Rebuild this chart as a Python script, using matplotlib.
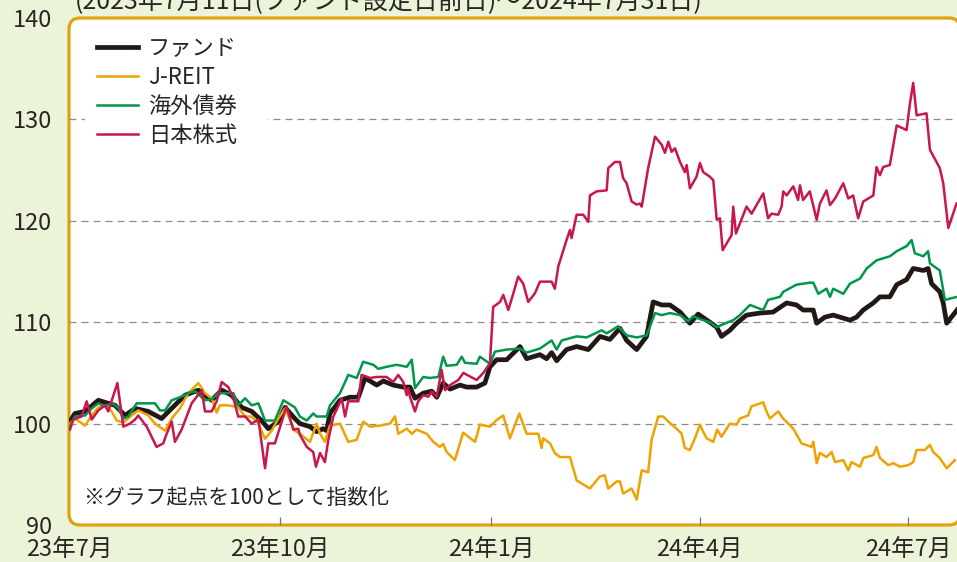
import matplotlib
matplotlib.use("Agg")
import matplotlib.pyplot as plt
import matplotlib.transforms as mtransforms
from matplotlib.patches import FancyBboxPatch, Rectangle

plt.rcParams['font.family'] = ['Noto Sans CJK JP', 'DejaVu Sans']

# ---------------- data (days since 2023-07-01, index values) ----------------
fund_days = [0.4, 2.6, 7.0, 12.8, 17.1, 20.1, 24.4, 28.8, 34.6, 40.4, 44.8, 50.6, 56.4, 62.2, 66.6, 70.9,
             75.3, 79.7, 84.0, 86.9, 91.3, 94.2, 98.5,
             100.7, 105.1, 108.0, 110.9, 112.4, 113.8, 118.2, 122.5, 126.2, 129.1, 134.2, 137.1, 141.4, 145.8,
             148.7, 150.9, 154.5, 158.2, 160.4, 163.2, 166.2, 170.5, 173.4, 177.8, 181.4,
             183.6, 186.5, 190.9, 196.7, 199.6, 205.4, 208.3, 210.5, 212.7, 217.0, 221.4, 226.5, 231.6, 235.9,
             240.3, 243.2, 247.6, 251.9, 254.8, 258.5, 262.1, 266.5, 270.8, 274.4,
             279.5, 282.5, 284.6, 288.2, 291.2, 295.5, 301.3, 307.1, 313.0, 317.3, 320.2, 324.6, 326.1, 329.7,
             333.3, 337.7, 340.6, 343.5, 346.4, 350.8, 353.7, 358.0, 361.0, 365.3, 368.2, 372.6, 374.7, 376.2,
             379.8, 381.3, 382.8, 387.3]
fund_vals = [100.2, 101.0, 101.2, 102.3, 102.0, 101.8, 100.8, 101.5, 101.2, 100.5, 101.5, 102.8, 103.3, 102.3,
             103.3, 102.8, 101.6, 101.2, 100.3, 99.5, 100.2, 101.6, 100.5,
             100.0, 99.7, 99.2, 99.5, 99.3, 101.0, 102.3, 102.6, 102.6, 104.5, 103.8, 104.2, 103.8, 103.6,
             103.6, 102.5, 103.0, 103.2, 102.6, 104.0, 103.4, 103.8, 103.6, 103.6, 104.0,
             105.6, 106.3, 106.3, 107.6, 106.4, 106.8, 106.4, 107.0, 106.2, 107.3, 107.6, 107.3, 108.6, 108.3,
             109.4, 108.2, 107.3, 108.6, 112.0, 111.7, 111.7, 111.0, 109.9, 110.8,
             110.0, 109.5, 108.6, 109.2, 109.9, 110.7, 110.9, 111.0, 111.9, 111.7, 111.2, 111.2, 109.9, 110.5,
             110.7, 110.4, 110.2, 110.5, 111.2, 111.9, 112.5, 112.5, 113.7, 114.2, 115.3, 115.1, 115.3, 113.8,
             113.0, 111.9, 109.9, 111.2]

reit_days = [0.4, 2.6, 7.0, 9.9, 12.8, 15.7, 18.6, 20.8, 23.7, 27.3, 30.2, 34.6, 37.5, 41.9, 44.8, 48.4,
             52.0, 56.4, 59.3, 62.2, 64.4, 65.8, 69.5, 73.8, 76.8, 79.7, 82.6, 85.5, 88.4, 91.3, 94.2, 98.5,
             100.7, 105.1, 108.0, 109.5, 111.6, 113.8, 118.2, 121.8, 125.5, 128.3, 131.3, 135.6, 140.0, 142.2,
             143.6, 147.3, 149.5, 151.6, 156.0, 158.9, 161.8, 163.2, 164.7, 168.3, 171.9, 177.1,
             179.2, 183.6, 186.5, 189.4, 192.3, 196.4, 199.6, 204.7, 206.1, 206.8,
             209.8, 211.9, 214.1, 218.5, 221.4, 225.8, 227.2, 231.6, 233.7, 235.2,
             238.9, 240.3, 241.7, 245.4, 247.6, 249.8, 252.6, 254.1, 257.0, 259.2,
             261.4, 265.0, 267.2, 268.6, 270.8, 273.0, 275.2, 276.6, 278.1, 281.0,
             282.7, 284.6, 288.2, 291.2, 292.6, 296.2, 297.7, 302.8, 304.2, 305.7,
             309.3, 311.5, 315.9, 319.5, 323.9, 324.6, 326.1, 327.5, 330.4, 332.6,
             334.1, 337.7, 339.9, 341.3, 345.0, 346.4, 350.8, 352.2, 353.7, 357.3,
             359.5, 362.4, 366.0, 368.2, 369.7, 373.3, 375.5, 376.9, 379.8, 382.8, 386.4]
reit_vals = [100.0, 100.5, 99.8, 100.8, 101.6, 101.8, 101.2, 100.3, 100.1, 100.8, 101.3, 100.8, 100.0, 99.3,
             100.5, 101.5, 103.0, 104.0, 103.0, 102.5, 101.1, 101.8, 101.8, 101.6, 100.7, 100.7, 100.0, 98.5,
             99.3, 100.5, 101.5, 99.3,
             99.0, 98.2, 100.0, 99.0, 98.2, 99.8, 100.0, 98.2, 98.4, 100.2, 99.7, 99.8, 100.0, 100.7,
             99.0, 99.5, 99.0, 99.4, 99.0, 98.2, 97.7, 98.0, 97.2, 96.4, 99.1, 98.2,
             99.9, 99.7, 100.35, 100.8, 98.55, 101.0, 99.0, 99.0, 97.6, 98.55,
             98.05, 97.1, 96.7, 96.7, 94.4, 93.8, 93.6, 94.8, 94.9, 93.6,
             94.3, 94.3, 93.1, 93.6, 92.5, 95.4, 95.2, 98.4, 100.7, 100.7,
             100.2, 99.5, 99.0, 97.6, 97.4, 98.55, 99.9, 99.2, 98.55, 98.2,
             99.4, 98.7, 100.0, 99.9, 100.5, 100.8, 101.7, 102.1, 101.2, 100.5,
             101.2, 100.5, 99.5, 98.05, 97.7, 98.2, 96.1, 97.1, 96.7, 97.2,
             96.2, 96.4, 95.4, 96.2, 95.75, 96.6, 96.9, 97.7, 96.6, 95.9,
             96.1, 95.75, 95.9, 96.2, 97.4, 97.4, 97.9, 97.2, 96.6, 95.6, 96.4]

bond_days = [0.4, 2.6, 7.0, 9.9, 12.8, 15.7, 18.6, 21.5, 23.7, 25.9, 29.5, 33.1, 37.5, 39.7, 41.9, 44.8,
             48.4, 52.0, 54.9, 59.3, 62.2, 65.1, 69.5, 71.7, 73.8, 76.8, 79.7, 82.6, 85.5, 89.8, 93.5, 98.5,
             100.7, 103.7, 106.5, 108.0, 112.4, 113.8, 118.2, 121.8, 125.5, 128.3, 132.7, 134.9, 138.5, 142.9,
             147.3, 149.5, 150.9, 154.5, 157.4, 161.1, 163.2, 164.7, 169.1, 171.3, 172.7, 177.8, 179.2, 183.6,
             185.8, 190.9,
             196.7, 199.6, 205.4, 210.5, 212.7, 214.9, 221.4, 225.8, 232.3, 234.5, 239.5, 243.2, 247.6, 251.9,
             255.6, 258.5, 262.1, 266.5, 270.1, 272.3, 275.2,
             279.5, 282.5, 285.3, 289.7, 292.6, 297.0, 302.8, 304.9, 310.1, 311.5, 317.3, 323.1, 324.6, 326.8,
             330.4, 331.9, 333.3, 337.7, 340.6, 345.0, 347.9, 352.2, 358.0, 361.0, 365.3, 367.5, 368.9, 372.6,
             374.7, 375.5, 379.8, 382.0, 387.3]
bond_vals = [99.7, 100.7, 100.8, 101.5, 102.0, 101.7, 102.0, 101.6, 100.5, 100.7, 102.0, 102.0, 102.0, 101.3,
             101.3, 102.3, 102.6, 103.0, 103.2, 102.3, 102.4, 103.0, 103.0, 103.0, 101.8, 102.5, 101.8, 102.0,
             100.3, 100.3, 102.3, 101.6,
             100.7, 100.3, 101.0, 100.7, 100.7, 101.8, 103.0, 104.8, 104.5, 106.1, 105.8, 105.4, 105.6, 105.8,
             105.6, 106.3, 103.5, 104.6, 104.5, 104.6, 106.6, 105.7, 105.8, 106.6, 106.0, 105.9, 106.6, 105.9,
             107.1, 107.3,
             107.4, 107.0, 107.4, 108.2, 107.3, 108.2, 108.6, 108.5, 109.2, 108.9, 109.6, 108.7, 108.5, 108.7,
             110.9, 110.7, 110.9, 110.7, 110.1, 110.6, 110.3,
             110.0, 109.5, 109.8, 110.2, 110.7, 111.7, 111.2, 112.2, 112.5, 113.0, 113.7, 113.9, 113.9, 112.8,
             113.3, 112.5, 113.3, 112.8, 113.8, 114.3, 115.3, 116.1, 116.5, 117.0, 117.5, 118.1, 116.8, 116.5,
             117.0, 115.8, 115.1, 112.2, 112.5]

jp_days = [0.4, 1.9, 5.5, 7.7, 9.9, 12.8, 15.7, 17.1, 21.1, 23.7, 26.6, 28.8, 30.2, 33.9, 38.2, 41.1, 42.6,
           44.8, 46.2, 49.1, 53.5, 57.9, 59.3, 62.2, 64.4, 66.6, 69.5, 71.7, 73.8, 76.8, 79.7, 82.6, 85.5,
           86.9, 89.8, 92.8, 94.9, 97.8, 100.0,
           100.7, 103.7, 106.5, 107.7, 109.5, 111.6, 113.1, 115.3, 117.4, 118.9, 120.4, 121.8, 126.2, 127.6,
           131.3, 134.2, 138.5, 141.4, 143.6, 145.8, 147.3, 148.0, 148.7, 150.9, 152.3, 154.5, 156.7, 158.2,
           160.4, 162.5, 164.0, 166.2, 169.8, 172.0, 177.8, 180.7, 183.6, 185.0, 188.0, 189.4, 191.6, 193.8,
           195.9, 198.1, 200.3, 203.2, 205.4,
           210.5, 211.9, 213.4, 217.0, 218.5, 219.2, 221.4, 224.3, 226.5, 227.2, 230.1, 234.5, 235.2, 238.1,
           240.3, 241.7, 243.2, 245.4, 247.6, 249.0, 249.8, 252.6, 255.6, 258.5, 259.9, 261.4, 262.8, 264.3,
           266.5, 268.6, 269.4, 270.8, 273.7, 275.2, 276.6,
           279.5, 281.0, 282.5, 283.9, 285.1, 289.0, 289.7, 290.9, 295.5, 297.7, 302.8, 304.9, 306.4, 309.3,
           310.8, 311.5, 313.0, 315.9, 318.0, 318.8, 320.2, 323.1, 326.1, 327.5, 330.4, 331.9, 334.1, 337.7,
           339.9, 342.0, 344.2, 346.4, 348.6, 350.8, 352.2, 353.7, 355.1, 358.0, 361.0, 365.3, 366.8, 368.2,
           369.7, 374.0, 375.5, 379.8, 381.3, 383.5, 387.1]
jp_vals = [99.4, 100.4, 100.7, 102.2, 100.4, 101.3, 101.8, 101.2, 104.0, 99.7, 100.0, 100.4, 100.8, 99.7,
           97.7, 98.05, 99.0, 100.2, 98.2, 99.4, 102.0, 103.3, 101.2, 101.2, 102.2, 104.1, 103.6, 102.5,
           100.7, 100.7, 100.0, 100.4, 95.6, 98.05, 98.05, 100.2, 101.7, 99.4, 99.5,
           98.9, 97.7, 97.2, 95.75, 97.1, 96.2, 98.4, 100.7, 101.7, 102.5, 100.7, 102.2, 102.2, 104.8,
           104.5, 104.6, 104.6, 104.1, 104.8, 104.1, 102.8, 103.5, 102.65, 101.2, 102.2, 102.8, 102.65, 103.15,
           102.65, 105.3, 103.3, 103.8, 104.3, 105.0, 104.3, 105.0, 105.95, 111.5, 112.0, 112.7, 111.2, 112.85,
           114.5, 113.8, 112.0, 112.85, 114.0,
           114.0, 113.3, 115.5, 118.1, 119.1, 118.3, 120.6, 120.6, 119.9, 122.5, 122.9, 123.0, 125.2, 125.8,
           125.8, 124.2, 123.7, 121.9, 121.6, 121.7, 121.4, 125.2, 128.3, 127.5, 126.7, 127.8, 126.8, 127.15,
           125.8, 124.8, 125.5, 123.2, 124.35, 125.7, 124.8,
           124.35, 124.0, 120.1, 120.25, 117.1, 118.6, 121.4, 118.75, 121.4, 120.7, 122.7, 120.25, 120.7, 120.6,
           121.4, 122.9, 122.5, 123.4, 122.05, 123.5, 122.05, 122.9, 120.1, 121.7, 123.0, 121.55, 122.2, 123.7,
           122.2, 122.5, 120.25, 121.9, 122.2, 122.5, 125.3, 124.5, 125.3, 125.5, 129.4, 128.95, 131.6, 133.6,
           130.4, 130.6, 127.0, 125.2, 123.7, 119.3, 121.7]

series_names = ['ファンド', 'J-REIT', '海外債券', '日本株式']
tick_days = [0, 92, 184, 275, 366]
tick_labels = ['23年7月', '23年10月', '24年1月', '24年4月', '24年7月']
y_ticks = [90, 100, 110, 120, 130, 140]
grid_levels = [100, 110, 120, 130]

title_text = '(2023年7月11日(ファンド設定日前日)～2024年7月31日)'
note_text = '※グラフ起点を100として指数化'

# ---------------- styling ----------------
BG = '#ebf3d9'
FRAME = '#e2a20c'
TXT = '#2a2522'
C_FUND = '#231815'
C_REIT = '#eea300'
C_BOND = '#00964b'
C_JP = '#c8174c'

W, H = 957, 562
fig = plt.figure(figsize=(W / 100, H / 100), dpi=100, facecolor=BG)

L, R, T, B = 69, 957, 18, 525
ax = fig.add_axes([L / W, 1 - B / H, (R - L) / W, (B - T) / H])
ax.set_facecolor('none')
for s in ax.spines.values():
    s.set_visible(False)

frame = FancyBboxPatch((L, H - B), 960 - L, B - T,
                       boxstyle='round,pad=0,rounding_size=11',
                       transform=mtransforms.IdentityTransform(),
                       facecolor='white', edgecolor=FRAME, linewidth=2.3, zorder=-5)
fig.add_artist(frame)

for g in grid_levels:
    ax.axhline(g, color='#8d8d8d', lw=0.9, linestyle=(0, (5.6, 4.0)), zorder=1)

# white legend backing box (hides gridline under the legend)
ax.add_patch(Rectangle((0.018, 0.75), 0.206, 0.23, transform=ax.transAxes,
                       facecolor='white', edgecolor='none', zorder=2))

l_fund, = ax.plot(fund_days, fund_vals, color=C_FUND, lw=3.4, zorder=3, solid_joinstyle='round')
l_reit, = ax.plot(reit_days, reit_vals, color=C_REIT, lw=1.8, zorder=4)
l_bond, = ax.plot(bond_days, bond_vals, color=C_BOND, lw=1.8, zorder=5)
l_jp, = ax.plot(jp_days, jp_vals, color=C_JP, lw=1.8, zorder=6)

ax.set_xlim(0, 387.3)
ax.set_ylim(90, 140)

ax.set_yticks(y_ticks)
ax.set_yticklabels([str(v) for v in y_ticks])
ax.tick_params(axis='y', length=0, pad=12, labelsize=17, labelcolor=TXT)

ax.set_xticks(tick_days)
ax.set_xticklabels(tick_labels)
ax.tick_params(axis='x', direction='in', length=6, width=0.9, color='#777777',
               pad=10, labelsize=17, labelcolor=TXT)
ax.xaxis.get_major_ticks()[0].tick1line.set_visible(False)
for t in ax.xaxis.get_major_ticks():
    t.tick2line.set_visible(False)

leg = ax.legend([l_fund, l_reit, l_bond, l_jp], series_names,
                loc='upper left', bbox_to_anchor=(0.0315, 0.962),
                frameon=False, borderpad=0, borderaxespad=0,
                handlelength=1.85, handletextpad=0.45, labelspacing=0.27,
                prop={'size': 16})
for t in leg.get_texts():
    t.set_color(TXT)
leg.set_zorder(7)

ax.text(0.0158, 0.053, note_text, transform=ax.transAxes, fontsize=15,
        color=TXT, va='center', ha='left', zorder=7)

fig.text(0.078, 0.983, title_text, fontsize=18, color=TXT, va='baseline', ha='left')

fig.savefig('out.png', dpi=100, facecolor=BG)
